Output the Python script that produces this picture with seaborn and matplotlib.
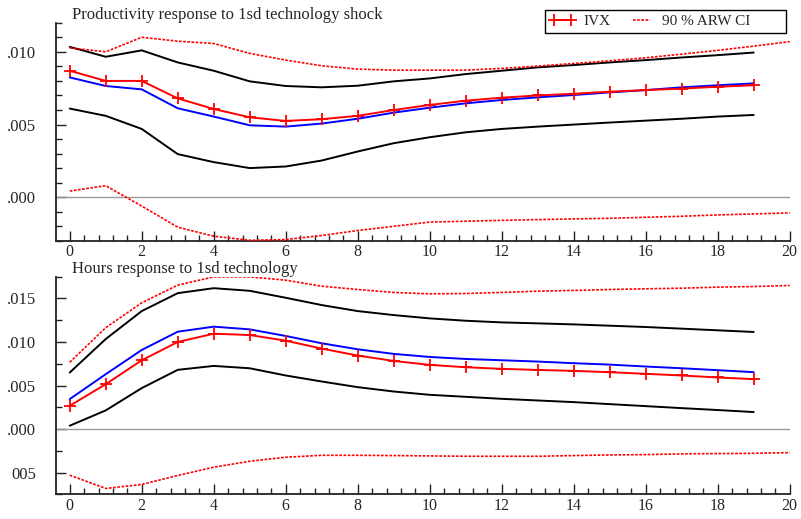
import numpy as np
import pandas as pd
import matplotlib
matplotlib.use("Agg")
import matplotlib.pyplot as plt
import seaborn as sns
from matplotlib.ticker import MultipleLocator
from matplotlib.lines import Line2D

# ---------------- data ----------------
horizon = list(range(20))          # 0..19
horizon_ci = list(range(21))       # 0..20

# Productivity panel
prod_ivx = [0.0087, 0.0080, 0.0080, 0.0068, 0.00607, 0.0055, 0.00525, 0.00537, 0.0056, 0.0060,
            0.00635, 0.00664, 0.00685, 0.0070, 0.00712, 0.00726, 0.00737, 0.00747, 0.0076, 0.0077]
prod_blue = [0.00824, 0.00765, 0.00742, 0.00612, 0.00555, 0.00495, 0.00486, 0.00507, 0.0054, 0.00582,
             0.00616, 0.00646, 0.00669, 0.00687, 0.00703, 0.00721, 0.00737, 0.00756, 0.0077, 0.00783]
prod_upper = [0.01034, 0.00966, 0.0101, 0.00927, 0.0087, 0.00797, 0.00765, 0.00756, 0.00767, 0.00797,
              0.00817, 0.00847, 0.0087, 0.00893, 0.00909, 0.00927, 0.00943, 0.00961, 0.00977, 0.00995]
prod_lower = [0.0061, 0.0056, 0.0047, 0.00297, 0.00242, 0.00201, 0.00212, 0.00253, 0.00315, 0.00372,
              0.00413, 0.00447, 0.0047, 0.00486, 0.0050, 0.00514, 0.00527, 0.0054, 0.00555, 0.00566]
prod_ci_hi = [0.01027, 0.0100, 0.0110, 0.01073, 0.01057, 0.00989, 0.00943, 0.00904, 0.00881, 0.00874,
              0.00874, 0.00874, 0.00886, 0.00902, 0.0092, 0.00938, 0.00959, 0.00984, 0.0101, 0.01039, 0.0107]
prod_ci_lo = [0.00043, 0.0008, -0.0006, -0.00205, -0.00267, -0.00295, -0.0029, -0.00262, -0.00228, -0.00199,
              -0.0017, -0.00164, -0.00158, -0.00153, -0.00148, -0.00144, -0.00137, -0.0013, -0.00121, -0.00114, -0.00107]

# Hours panel
hours_ivx = [0.00267, 0.00515, 0.0079, 0.0100, 0.01095, 0.0108, 0.01015, 0.00924, 0.00844, 0.00782,
             0.00737, 0.0071, 0.00691, 0.00679, 0.00668, 0.00653, 0.00634, 0.00615, 0.00592, 0.00573]
hours_blue = [0.00344, 0.0063, 0.00908, 0.01118, 0.01176, 0.01145, 0.01069, 0.00985, 0.00916, 0.00863,
              0.00828, 0.00805, 0.0079, 0.00775, 0.00756, 0.0074, 0.00718, 0.00698, 0.00676, 0.00653]
hours_upper = [0.00649, 0.01034, 0.01355, 0.01561, 0.01618, 0.01588, 0.01508, 0.01424, 0.01355, 0.01309,
               0.01271, 0.01244, 0.01225, 0.01214, 0.01202, 0.01187, 0.01172, 0.01153, 0.01134, 0.01115]
hours_lower = [0.00038, 0.00214, 0.0047, 0.0068, 0.00725, 0.00698, 0.00615, 0.00546, 0.00481, 0.00431,
               0.00393, 0.0037, 0.00347, 0.00328, 0.00309, 0.00286, 0.00263, 0.0024, 0.00218, 0.00195]
hours_ci_hi = [0.00767, 0.01164, 0.0145, 0.01653, 0.01748, 0.01748, 0.0171, 0.01641, 0.01603, 0.01569,
               0.01553, 0.01557, 0.01569, 0.01584, 0.01592, 0.01603, 0.01611, 0.01618, 0.0163, 0.01637, 0.01649]
hours_ci_lo = [-0.0053, -0.00683, -0.00637, -0.00534, -0.00439, -0.0037, -0.00324, -0.00302, -0.00302, -0.00305,
               -0.00309, -0.00313, -0.00313, -0.00313, -0.00305, -0.00298, -0.00294, -0.00286, -0.00282, -0.00279, -0.00271]

titles = ["Productivity response to 1sd technology shock", "Hours response to 1sd technology"]
legend_labels = ["IVX", "90 % ARW CI"]
xticks = [0, 2, 4, 6, 8, 10, 12, 14, 16, 18, 20]
xtick_labels = ["0", "2", "4", "6", "8", "10", "12", "14", "16", "18", "20"]
top_yticks = [0.0, 0.005, 0.010]
top_ytick_labels = [".000", ".005", ".010"]
bot_yticks = [-0.005, 0.0, 0.005, 0.010, 0.015]
bot_ytick_labels = ["005", ".000", ".005", ".010", ".015"]

# ---------------- style ----------------
sns.set_style("ticks")
plt.rcParams['font.family'] = ['Liberation Serif', 'DejaVu Serif']

fig = plt.figure(figsize=(8.01, 5.19), dpi=100)
L, R = 55.7 / 801, 789.7 / 801
ax1 = fig.add_axes([L, 1 - 241 / 519, R - L, (241 - 22.7) / 519])
ax2 = fig.add_axes([L, 1 - 494.3 / 519, R - L, (494.3 - 276.7) / 519])

RED = "#ff0000"
BLUE = "#0000ff"
BLACK = "#000000"
DOT = (0, (1.6, 0.9))


def draw(ax, ivx, blue, upper, lower, ci_hi, ci_lo):
    ax.axhline(0, color="#999999", lw=1.0, zorder=1)
    sns.lineplot(x=horizon, y=upper, ax=ax, color=BLACK, lw=1.4, zorder=2)
    sns.lineplot(x=horizon, y=lower, ax=ax, color=BLACK, lw=1.4, zorder=2)
    sns.lineplot(x=horizon_ci, y=ci_hi, ax=ax, color=RED, lw=1.2, ls=DOT, zorder=3)
    sns.lineplot(x=horizon_ci, y=ci_lo, ax=ax, color=RED, lw=1.2, ls=DOT, zorder=3)
    sns.lineplot(x=horizon, y=blue, ax=ax, color=BLUE, lw=1.4, zorder=4)
    sns.lineplot(x=horizon, y=ivx, ax=ax, color=RED, lw=1.4, marker="+", markersize=8,
                 markeredgewidth=1.3, markeredgecolor=RED, zorder=5)


draw(ax1, prod_ivx, prod_blue, prod_upper, prod_lower, prod_ci_hi, prod_ci_lo)
draw(ax2, hours_ivx, hours_blue, hours_upper, hours_lower, hours_ci_hi, hours_ci_lo)

for ax in (ax1, ax2):
    ax.set_xlim(-0.39, 20)
    ax.set_xticks(xticks)
    ax.set_xticklabels(xtick_labels)
    ax.xaxis.set_minor_locator(MultipleLocator(0.4))
    ax.spines['top'].set_visible(False)
    ax.spines['right'].set_visible(False)
    for s in ('left', 'bottom'):
        ax.spines[s].set_linewidth(1.3)
        ax.spines[s].set_color("#222222")
    ax.tick_params(which='major', direction='in', length=7, width=1.0, labelsize=12, color="#222222")
    ax.tick_params(which='minor', direction='in', length=4, width=1.0, color="#222222")
    ax.tick_params(axis='x', which='major', pad=2.5, labelsize=11.5)
    ax.tick_params(axis='y', which='major', pad=14)
    ax.set_xlabel("")
    ax.set_ylabel("")

ax1.set_ylim(-0.003, 0.012)
ax1.set_yticks(top_yticks)
ax1.set_yticklabels(top_ytick_labels)
ax1.yaxis.set_minor_locator(MultipleLocator(0.001))

ax2.set_ylim(-0.0075, 0.0175)
ax2.set_yticks(bot_yticks)
ax2.set_yticklabels(bot_ytick_labels)
ax2.yaxis.set_minor_locator(MultipleLocator(0.0025))

fig.text(72 / 801, 1 - 15 / 519, titles[0], fontsize=12, ha='left', va='center')
fig.text(72 / 801, 1 - 269 / 519, titles[1], fontsize=12, ha='left', va='center')

handles = [Line2D([], [], color=RED, lw=1.4, marker="+", markersize=8, markeredgewidth=1.3),
           Line2D([], [], color=RED, lw=1.2, ls=DOT)]
leg = fig.legend(handles, [legend_labels[0], legend_labels[1] + "        "], loc='upper left',
                 bbox_to_anchor=(545 / 801, 1 - 10 / 519), ncol=2, frameon=True, fancybox=False,
                 fontsize=11, handlelength=1.7, numpoints=2, borderpad=0.3, columnspacing=1.2,
                 handletextpad=0.5, borderaxespad=0, framealpha=1)
leg.get_frame().set_edgecolor("#000000")
leg.get_frame().set_linewidth(1.0)

fig.savefig("out.png", dpi=100)
